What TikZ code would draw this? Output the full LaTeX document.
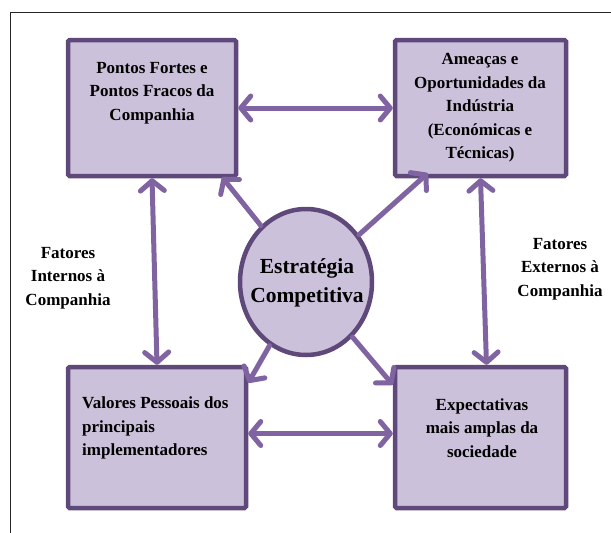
\documentclass[tikz,border=0pt]{standalone}
\usepackage{fontspec}
\setmainfont{Liberation Serif}
\usetikzlibrary{arrows.meta,shapes.geometric}
\definecolor{boxfill}{HTML}{CCC1DA}
\definecolor{boxline}{HTML}{5F497A}
\definecolor{arr}{HTML}{8064A2}
\begin{document}
\begin{tikzpicture}[x=1pt,y=-1pt,
  box/.style={draw=boxline,line width=4.5pt,fill=boxfill,rounded corners=1.5pt,inner sep=0pt},
  txt/.style={font=\bfseries\fontsize{17}{23.5}\selectfont,align=center,inner sep=0pt},
  ctxt/.style={font=\bfseries\fontsize{21.5}{29}\selectfont,align=center,inner sep=0pt},
  conn/.style={draw=arr,line width=5pt,line cap=round,line join=round,
    preaction={draw=black,opacity=0.2,transform canvas={xshift=1.5pt,yshift=-2pt}}},
  tip/.tip={Straight Barb[length=10pt,width=24pt,line cap=round,line join=round]},
  frame/.style={draw=black!85,line width=1pt}
  ]
\useasboundingbox (0,0) rectangle (611,533);
% frame
\coordinate (f1) at (10,534);
\coordinate (f2) at (10,12);
\coordinate (f3) at (612,12);
\draw[frame] (f1) -- (f2) -- (f3);
% boxes
\node[box,minimum width=168pt,minimum height=136pt] (tl) at (152,108) {};
\node[box,minimum width=171pt,minimum height=136pt] (tr) at (480.5,108) {};
\node[box,minimum width=178pt,minimum height=141pt] (bl) at (157,437.5) {};
\node[box,minimum width=171pt,minimum height=141pt] (br) at (480.5,437.5) {};
\node[box,ellipse,minimum width=132pt,minimum height=146pt] (c) at (306,282) {};
% texts
\node[txt] (tlt) at (152,93) {Pontos Fortes e\\Pontos Fracos da\\Companhia};
\node[txt] (trt) at (480,108) {Ameaças e\\Oportunidades da\\Indústria\\(Económicas e\\Técnicas)};
\node[txt,align=left,anchor=west] (blt) at (82,428) {Valores Pessoais dos\\principais\\implementadores};
\node[txt] (brt) at (482,428) {Expectativas\\mais amplas da\\sociedade};
\node[ctxt] (ct) at (307,283) {Estratégia\\Competitiva};
\node[txt] (lint) at (68,278) {Fatores\\Internos à\\Companhia};
\node[txt] (lext) at (560,269) {Fatores\\Externos à\\Companhia};
% connectors
\draw[conn,tip-tip] (tl.east) -- (tr.west);
\draw[conn,tip-tip] ([yshift=4pt]bl.east) -- ([yshift=4pt]br.west);
\draw[conn,tip-tip] (tl.south) -- (bl.north);
\draw[conn,tip-tip] (tr.south) -- ([xshift=6pt]br.north);
\draw[conn,-tip] (c) -- ([xshift=-16pt,yshift=1pt]tl.south east);
\draw[conn,-tip] (c) -- ([xshift=35pt,yshift=5pt]tr.south west);
\draw[conn,-tip] (c) -- ([yshift=-18pt]bl.north east);
\draw[conn,-tip] (c) -- ([yshift=-20pt]br.north west);
\end{tikzpicture}
\end{document}
